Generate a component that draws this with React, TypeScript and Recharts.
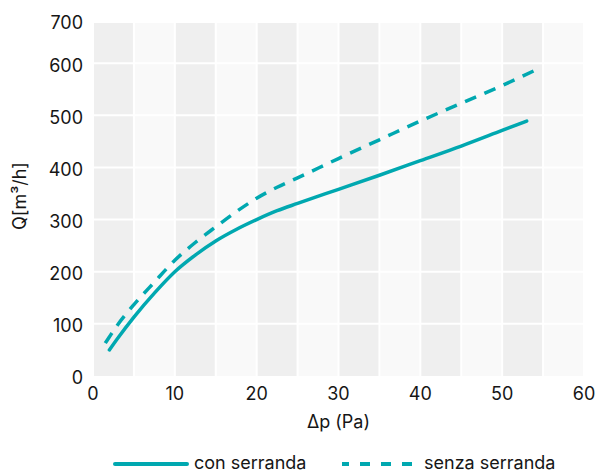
import React from 'react';
import { LineChart, Line, XAxis, YAxis, CartesianGrid, ReferenceArea } from 'recharts';

const xTicks = [0, 10, 20, 30, 40, 50, 60];
const yTicks = [0, 100, 200, 300, 400, 500, 600, 700];
const xGrid = [0, 5, 10, 15, 20, 25, 30, 35, 40, 45, 50, 55, 60];
const yGrid = [100, 200, 300, 400, 500, 600];

const conSerranda = [
  { dp: 2, q: 50 }, { dp: 3, q: 72 }, { dp: 5, q: 113 }, { dp: 7.5, q: 159 },
  { dp: 10, q: 200 }, { dp: 12.5, q: 232 }, { dp: 15, q: 259 }, { dp: 17.5, q: 281 },
  { dp: 20, q: 300 }, { dp: 22.5, q: 317 }, { dp: 25, q: 331 }, { dp: 30, q: 358 },
  { dp: 35, q: 385 }, { dp: 40, q: 413 }, { dp: 45, q: 441 }, { dp: 50, q: 471 },
  { dp: 53, q: 489 },
];

const senzaSerranda = [
  { dp: 1.5, q: 63 }, { dp: 3, q: 98 }, { dp: 5, q: 137 }, { dp: 7.5, q: 180 },
  { dp: 10, q: 222 }, { dp: 12.5, q: 256 }, { dp: 15, q: 286 }, { dp: 17.5, q: 315 },
  { dp: 20, q: 341 }, { dp: 22.5, q: 362 }, { dp: 25, q: 380 }, { dp: 30, q: 417 },
  { dp: 35, q: 453 }, { dp: 40, q: 489 }, { dp: 45, q: 523 }, { dp: 50, q: 557 },
  { dp: 54.5, q: 590 },
];

const seriesNames = ['con serranda', 'senza serranda'];
const COLOR = '#00a8b0';
const FONT = 'Inter, "Liberation Sans", Arial, sans-serif';
const TEXT = '#161616';

const YTick = (props: any) => {
  const { x, y, payload } = props;
  return (
    <text x={x} y={Math.max(y, 21) + 2} dy="0.355em" textAnchor="end" fontSize={18} fontFamily={FONT} fill={TEXT}>
      {payload.value}
    </text>
  );
};

export default function App() {
  return (
    <div style={{ position: 'absolute', left: 0, top: 0, width: 598, height: 474, background: '#fff', overflow: 'hidden' }}>
      <LineChart width={598} height={450} margin={{ top: 11, right: 14, bottom: 34, left: 0 }}>
        <CartesianGrid
          stroke="#ffffff"
          strokeWidth={2}
          verticalValues={xGrid}
          horizontalValues={yGrid}
          verticalFill={['#efefef', '#f9f9f9']}
          fillOpacity={1}
        />
        <ReferenceArea x1={0} x2={60} y1={677} y2={700} fill="#ffffff" fillOpacity={1} stroke="none" ifOverflow="hidden" />
        <XAxis
          type="number"
          dataKey="dp"
          domain={[0, 60]}
          ticks={xTicks}
          height={40}
          axisLine={false}
          tickLine={false}
          tickSize={6}
          tickMargin={5}
          tick={{ fontSize: 18, fontFamily: FONT, fill: TEXT }}
          allowDuplicatedCategory={false}
          label={{
            content: (p: any) => {
              const vb = p.viewBox || {};
              return (
                <text x={vb.x + vb.width / 2} y={422} dy="0.355em" textAnchor="middle" fontSize={18} fontFamily={FONT} fill={TEXT}>
                  Δp (Pa)
                </text>
              );
            },
          }}
        />
        <YAxis
          type="number"
          domain={[0, 700]}
          ticks={yTicks}
          width={93}
          axisLine={false}
          tickLine={false}
          tickSize={6}
          tickMargin={4}
          tick={<YTick />}
          label={{
            content: () => (
              <text transform="translate(20,196) rotate(-90)" dy="0.355em" textAnchor="middle" fontSize={18} fontFamily={FONT} fill={TEXT}>
                Q[m³/h]
              </text>
            ),
          }}
        />
        <Line
          data={conSerranda}
          dataKey="q"
          name={seriesNames[0]}
          type="monotone"
          stroke={COLOR}
          strokeWidth={3.5}
          strokeLinecap="round"
          dot={false}
          activeDot={false}
          isAnimationActive={false}
        />
        <Line
          data={senzaSerranda}
          dataKey="q"
          name={seriesNames[1]}
          type="monotone"
          stroke={COLOR}
          strokeWidth={3.5}
          strokeDasharray="12 9"
          dot={false}
          activeDot={false}
          isAnimationActive={false}
        />
      </LineChart>
      <svg width={598} height={24} style={{ position: 'absolute', left: 0, top: 450, display: 'block' }}>
        <line x1={115} x2={187} y1={14} y2={14} stroke={COLOR} strokeWidth={4} strokeLinecap="round" />
        <text x={194} y={13} dy="0.355em" fontSize={18} fontFamily={FONT} fill={TEXT}>{seriesNames[0]}</text>
        <line x1={342} x2={412} y1={14} y2={14} stroke={COLOR} strokeWidth={4} strokeDasharray="10 11" strokeDashoffset={3} />
        <text x={424} y={13} dy="0.355em" fontSize={18} fontFamily={FONT} fill={TEXT}>{seriesNames[1]}</text>
      </svg>
    </div>
  );
}
